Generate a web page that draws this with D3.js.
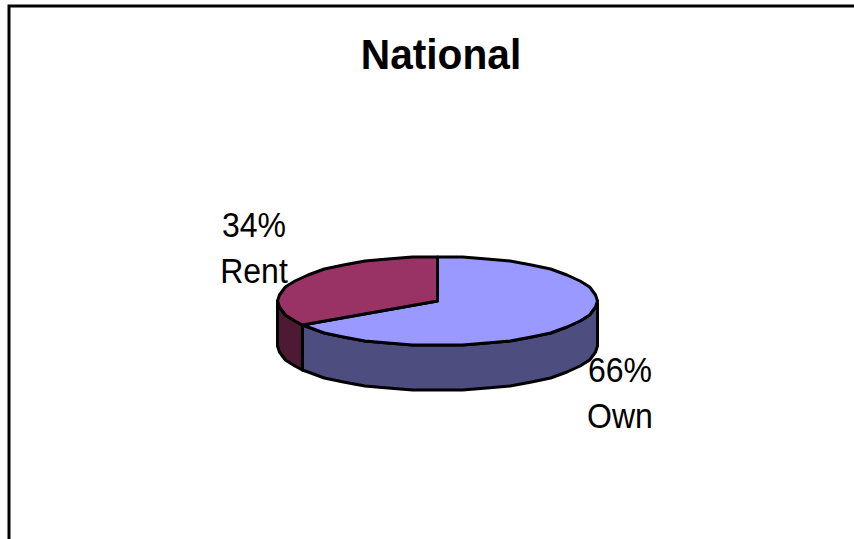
<!DOCTYPE html>
<html><head><meta charset="utf-8">
<script src="https://cdn.jsdelivr.net/npm/d3@7"></script>
<style>html,body{margin:0;padding:0;background:#fff}svg{display:block}text{font-family:"Liberation Sans",Arial,sans-serif;fill:#000}</style>
</head><body><svg width="854" height="539"></svg>
<script>
const title = "National";
const categories = ["Own", "Rent"];
const values = [66, 34];
const topColors = ["#9999FF", "#993366"];
const sideColors = ["#4D4D80", "#4D1933"];

const W = 854, H = 539, cx = 437.5, cy = 301, rx = 160, ry = 44, depth = 45;
const svg = d3.select("svg");
const tau = 2 * Math.PI;

svg.append("path").attr("d", `M9,${H+5}V6H${W+5}`).attr("fill", "none").attr("stroke", "#000").attr("stroke-width", 3);

svg.append("text").attr("transform", "translate(441,68.5) scale(1.13,1.2)").attr("text-anchor", "middle")
  .style("font-size", "36px").style("font-weight", "700").text(title);

const arcs = d3.pie().sort(null).value(d => d)(values);
const stepN = 40, gridY = 2;
const pt = (a, dz = 0) => [cx + rx * Math.sin(a), cy + gridY * Math.round(-ry * Math.cos(a) / gridY) + dz];
function samples(a0, a1) {
  const out = [a0];
  const k0 = Math.floor(a0 / (tau / stepN)) + 1;
  for (let k = k0; k * tau / stepN < a1 - 1e-6; k++) out.push(k * tau / stepN);
  out.push(a1);
  return out;
}
const line = d3.line();
const g = svg.append("g").attr("stroke", "#000").attr("stroke-width", 3).attr("stroke-linejoin", "round");

arcs.forEach((d, i) => {
  const a0 = Math.max(d.startAngle, tau / 4), a1 = Math.min(d.endAngle, tau * 3 / 4);
  if (a1 <= a0) return;
  const s = samples(a0, a1);
  const pts = s.map(a => pt(a)).concat(s.slice().reverse().map(a => pt(a, depth)));
  g.append("path").attr("d", line(pts) + "Z").attr("fill", sideColors[i]);
});
arcs.forEach((d, i) => {
  const pts = [[cx, cy]].concat(samples(d.startAngle, d.endAngle).map(a => pt(a)));
  g.append("path").attr("d", line(pts) + "Z").attr("fill", topColors[i]);
});

const labels = [[620, 381.5, 620, 428], [254, 236.5, 254, 282.5]];
arcs.forEach((d, i) => {
  const t = svg.append("g").style("font-size", "32px").attr("text-anchor", "middle");
  t.append("text").attr("transform", `translate(${labels[i][0]},${labels[i][1]}) scale(1,1.07)`).text(Math.round(d.value) + "%");
  t.append("text").attr("transform", `translate(${labels[i][2]},${labels[i][3]}) scale(1,1.07)`).text(categories[i]);
});
</script></body></html>
